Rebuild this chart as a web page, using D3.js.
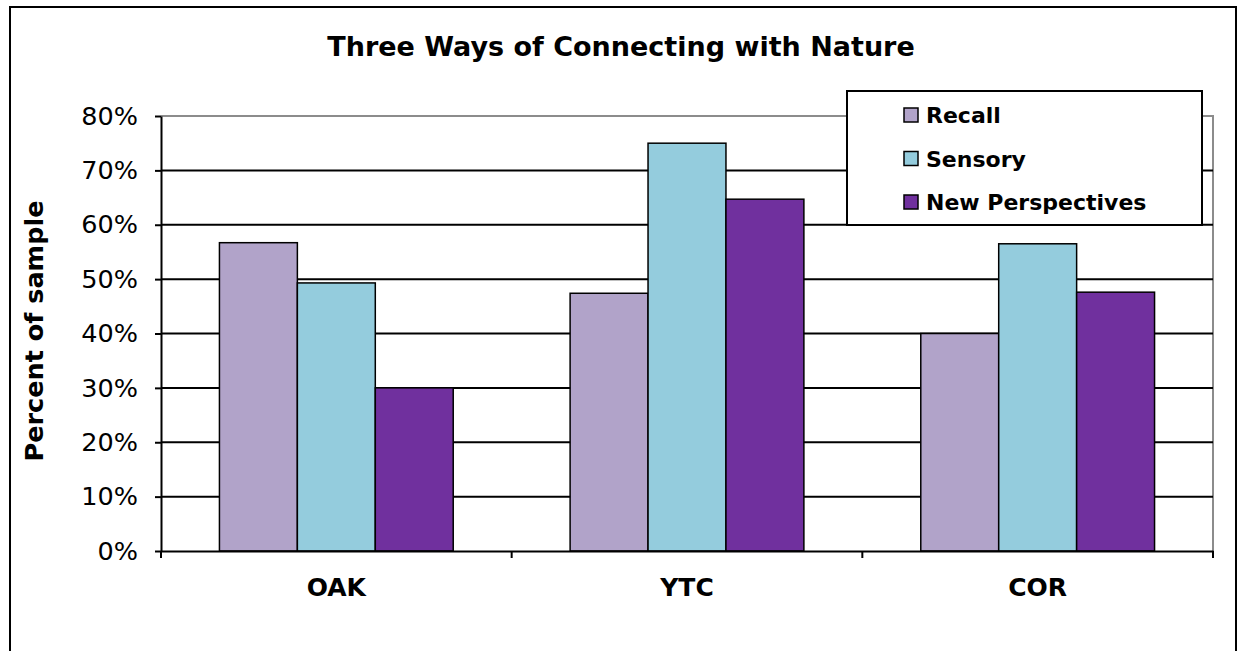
<!DOCTYPE html>
<html>
<head>
<meta charset="utf-8">
<script src="https://cdn.jsdelivr.net/npm/d3@7"></script>
<style>
  body { margin: 0; background: #fff; }
  svg { display: block; font-family: "DejaVu Sans", Verdana, sans-serif; }
</style>
</head>
<body>
<script>
"use strict";
(function(){
    // data
    const sites = ["OAK", "YTC", "COR"];
    const series = ["Recall", "Sensory", "New Perspectives"];
    const recall = [0.567, 0.474, 0.400];
    const sensory = [0.493, 0.750, 0.565];
    const newPerspectives = [0.300, 0.647, 0.476];
    const yTicks = [0, 0.1, 0.2, 0.3, 0.4, 0.5, 0.6, 0.7, 0.8];
    const seriesColors = ["#B1A3C9", "#94CCDD", "#70309E"];

    const measurements = {
        width: 1238,
        height: 651,
        left: 161,
        right: 1213,
        top: 116,
        bottom: 551
    }

    const values = [recall, sensory, newPerspectives];
    const rows = sites.map((s, i) => ({
        site: s,
        vals: series.map((name, j) => ({ name: name, value: values[j][i], color: seriesColors[j] }))
    }));

    const svg = d3.select("body").append("svg")
        .attr("width", measurements.width)
        .attr("height", measurements.height);

    // outer chart frame
    svg.append("rect")
        .attr("x", 10).attr("y", 7)
        .attr("width", 1226).attr("height", 700)
        .attr("fill", "none")
        .attr("stroke", "#000")
        .attr("stroke-width", 2);

    const x = d3.scaleBand()
        .domain(sites)
        .range([measurements.left, measurements.right]);

    const xInner = d3.scaleBand()
        .domain(series)
        .range([0, x.bandwidth()])
        .paddingInner(0)
        .paddingOuter(0.75);

    const y = d3.scaleLinear()
        .domain([0, 0.8])
        .range([measurements.bottom, measurements.top]);

    // plot area border (top / right in grey)
    svg.append("path")
        .attr("d", `M${measurements.left},${measurements.top}H${measurements.right}V${measurements.bottom}`)
        .attr("fill", "none")
        .attr("stroke", "#8c8c8c")
        .attr("stroke-width", 2);

    // gridlines
    svg.append("g")
        .selectAll("line")
        .data(yTicks.filter(t => t > 0 && t < 0.8))
        .enter()
        .append("line")
        .attr("x1", measurements.left)
        .attr("x2", measurements.right)
        .attr("y1", d => y(d))
        .attr("y2", d => y(d))
        .attr("stroke", "#000")
        .attr("stroke-width", 2);

    // bars
    const groups = svg.append("g")
        .selectAll("g")
        .data(rows)
        .enter()
        .append("g")
        .attr("transform", d => `translate(${x(d.site)},0)`);

    groups.selectAll("rect")
        .data(d => d.vals)
        .enter()
        .append("rect")
        .attr("x", d => xInner(d.name))
        .attr("y", d => y(d.value))
        .attr("width", xInner.bandwidth())
        .attr("height", d => y(0) - y(d.value))
        .attr("fill", d => d.color)
        .attr("stroke", "#000")
        .attr("stroke-width", 1.5);

    // y axis
    const yAxis = d3.axisLeft(y)
        .tickValues(yTicks)
        .tickFormat(d3.format(".0%"))
        .tickSize(6)
        .tickSizeOuter(0)
        .tickPadding(17);

    const yg = svg.append("g")
        .attr("transform", `translate(${measurements.left},0)`)
        .call(yAxis);
    yg.select(".domain").attr("stroke", "#000").attr("stroke-width", 2);
    yg.selectAll(".tick line").attr("stroke", "#000").attr("stroke-width", 2);
    yg.selectAll(".tick text")
        .attr("font-family", "DejaVu Sans, sans-serif")
        .attr("font-size", "25.5px")
        .attr("fill", "#000");

    // x axis
    const xAxis = d3.axisBottom(x)
        .tickSize(0)
        .tickSizeOuter(0)
        .tickPadding(27);

    const xg = svg.append("g")
        .attr("transform", `translate(0,${measurements.bottom})`)
        .call(xAxis);
    xg.select(".domain").attr("stroke", "#000").attr("stroke-width", 2);
    xg.selectAll(".tick text")
        .attr("font-family", "DejaVu Sans, sans-serif")
        .attr("font-size", "25px")
        .attr("font-weight", "bold")
        .attr("fill", "#000");

    // category boundary ticks
    const bounds = sites.map(s => x(s)).concat([measurements.right]);
    svg.append("g")
        .selectAll("line")
        .data(bounds)
        .enter()
        .append("line")
        .attr("x1", d => d).attr("x2", d => d)
        .attr("y1", measurements.bottom)
        .attr("y2", measurements.bottom + 7)
        .attr("stroke", "#000")
        .attr("stroke-width", 2);

    // title
    svg.append("text")
        .attr("x", 621)
        .attr("y", 56)
        .attr("text-anchor", "middle")
        .style("font-size", "27px")
        .style("font-weight", "bold")
        .text("Three Ways of Connecting with Nature");

    // y axis title
    svg.append("text")
        .attr("transform", "translate(43, 331)rotate(-90)")
        .attr("text-anchor", "middle")
        .style("font-size", "25.5px")
        .style("font-weight", "bold")
        .text("Percent of sample");

    // legend
    const legend = svg.append("g");
    legend.append("rect")
        .attr("x", 847).attr("y", 91)
        .attr("width", 355).attr("height", 134)
        .attr("fill", "#fff")
        .attr("stroke", "#000")
        .attr("stroke-width", 2);

    const items = legend.selectAll("g.item")
        .data(series)
        .enter()
        .append("g")
        .attr("class", "item")
        .attr("transform", (d, i) => `translate(904,${115 + i * 43.5})`);

    items.append("rect")
        .attr("x", 0).attr("y", -7)
        .attr("width", 14).attr("height", 14)
        .attr("fill", (d, i) => seriesColors[i])
        .attr("stroke", "#000")
        .attr("stroke-width", 1.5);

    items.append("text")
        .attr("x", 22)
        .attr("y", 8)
        .style("font-size", "22px")
        .style("font-weight", "bold")
        .text(d => d);
})()
</script>
</body>
</html>
